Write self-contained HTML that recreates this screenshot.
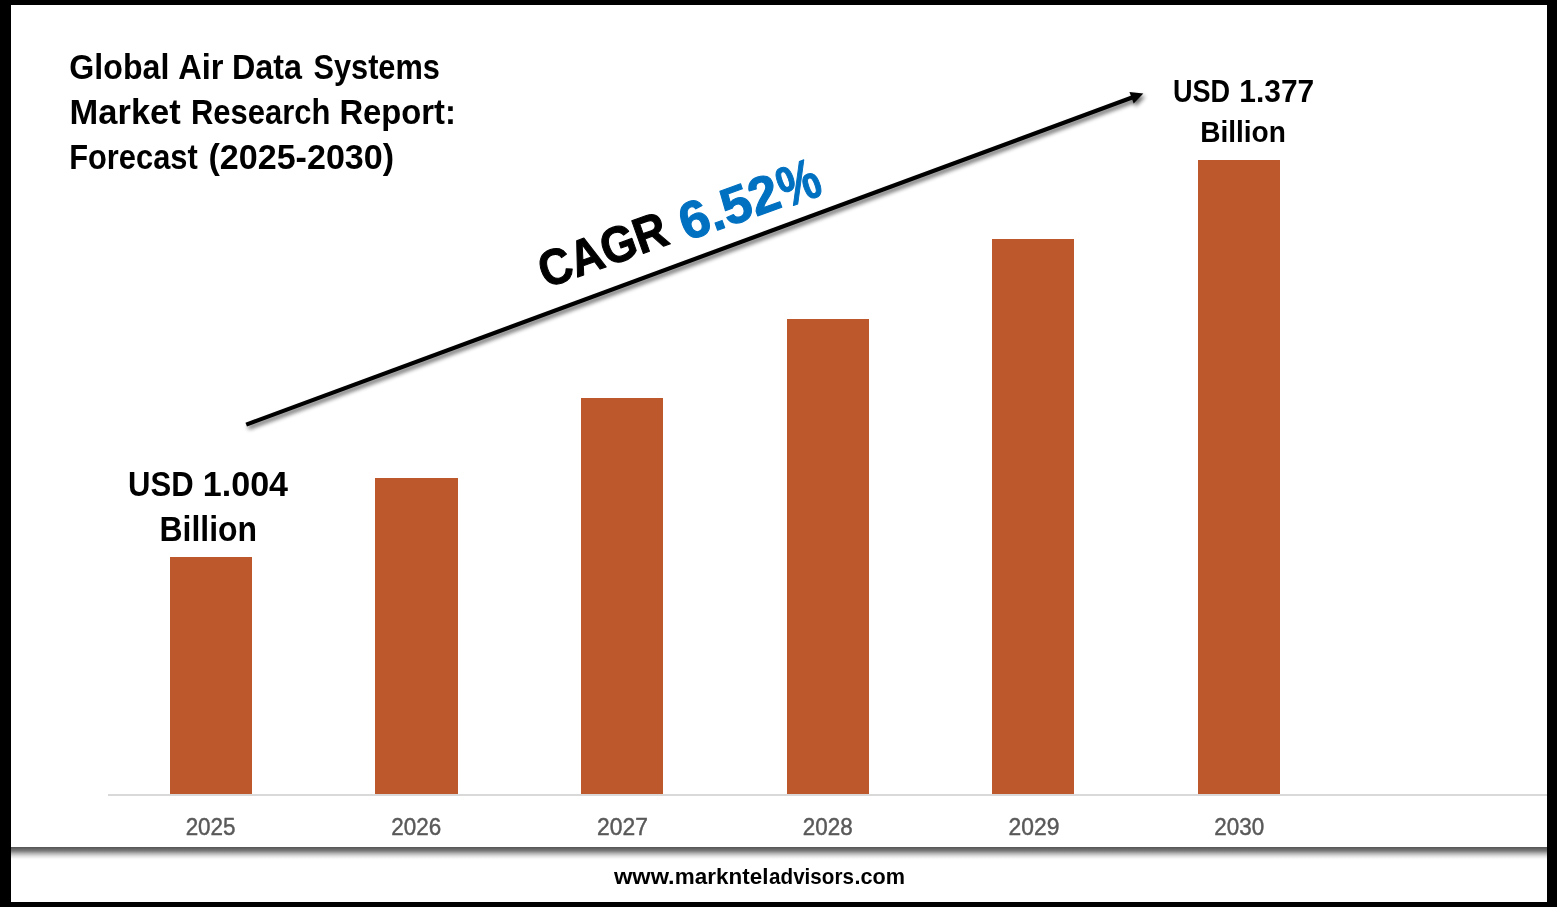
<!DOCTYPE html>
<html><head><meta charset="utf-8"><title>Global Air Data Systems Market</title>
<style>
html,body{margin:0;padding:0;background:#000;}
body{width:1557px;height:907px;overflow:hidden;position:relative;font-family:"Liberation Sans",sans-serif;}
svg{position:absolute;left:0;top:0;display:block;will-change:transform;}
text{font-family:"Liberation Sans",sans-serif;}
</style></head><body>
<svg width="1557" height="907" viewBox="0 0 1557 907">
<defs>
<linearGradient id="sh" x1="0" y1="0" x2="0" y2="1">
<stop offset="0" stop-color="#555"/><stop offset="0.12" stop-color="#626262"/><stop offset="0.3" stop-color="#7d7d7d"/>
<stop offset="0.5" stop-color="#b4b4b4"/><stop offset="0.7" stop-color="#e0e0e0"/><stop offset="0.88" stop-color="#f8f8f8"/><stop offset="1" stop-color="#fff"/>
</linearGradient>
<filter id="ds" x="-5%" y="-20%" width="110%" height="140%">
<feGaussianBlur in="SourceAlpha" stdDeviation="2.1"/><feOffset dx="1.8" dy="3"/>
<feComponentTransfer><feFuncA type="linear" slope="0.6"/></feComponentTransfer>
<feMerge><feMergeNode/><feMergeNode in="SourceGraphic"/></feMerge>
</filter>
</defs>
<rect x="0" y="0" width="1557" height="907" fill="#000"/>
<rect x="11" y="5" width="1536" height="897" fill="#fff"/>
<rect x="11" y="847" width="1536" height="13" fill="url(#sh)"/>
<rect x="108" y="794" width="1439" height="2" fill="#d9d9d9"/>
<rect x="170" y="557" width="82" height="237" fill="#BD582C"/>
<rect x="375" y="478" width="83" height="316" fill="#BD582C"/>
<rect x="581" y="398" width="82" height="396" fill="#BD582C"/>
<rect x="787" y="319" width="82" height="475" fill="#BD582C"/>
<rect x="992" y="239" width="82" height="555" fill="#BD582C"/>
<rect x="1198" y="160" width="82" height="634" fill="#BD582C"/>
<g filter="url(#ds)"><line x1="246.2" y1="424.6" x2="1133.45" y2="97.04" stroke="#000" stroke-width="4.2"/><polygon points="1143.30,93.40 1133.72,103.55 1129.43,91.91" fill="#000"/></g>
<text transform="translate(69.37,78.50) scale(0.9317,1)" font-size="34.5" font-weight="bold" fill="#000">Global</text>
<text transform="translate(178.20,78.50) scale(0.9453,1)" font-size="34.5" font-weight="bold" fill="#000">Air</text>
<text transform="translate(232.03,78.50) scale(0.9363,1)" font-size="34.5" font-weight="bold" fill="#000">Data</text>
<text transform="translate(313.41,78.50) scale(0.8917,1)" font-size="34.5" font-weight="bold" fill="#000">Systems</text>
<text transform="translate(69.60,123.75) scale(0.9998,1)" font-size="34.5" font-weight="bold" fill="#000">Market</text>
<text transform="translate(191.01,123.75) scale(0.8970,1)" font-size="34.5" font-weight="bold" fill="#000">Research</text>
<text transform="translate(339.40,123.75) scale(0.9504,1)" font-size="34.5" font-weight="bold" fill="#000">Report:</text>
<text transform="translate(69.21,168.80) scale(0.8937,1)" font-size="34.5" font-weight="bold" fill="#000">Forecast</text>
<text transform="translate(208.51,168.80) scale(0.9877,1)" font-size="34.5" font-weight="bold" fill="#000">(2025-2030)</text>
<text transform="translate(128.10,495.80) scale(0.9010,1)" font-size="34.5" font-weight="bold" fill="#000">USD</text>
<text transform="translate(202.82,495.80) scale(0.9876,1)" font-size="34.5" font-weight="bold" fill="#000">1.004</text>
<text transform="translate(159.55,540.70) scale(0.9257,1)" font-size="34.5" font-weight="bold" fill="#000">Billion</text>
<text transform="translate(1172.92,101.60) scale(0.8792,1)" font-size="30.8" font-weight="bold" fill="#000">USD</text>
<text transform="translate(1239.33,101.60) scale(0.9714,1)" font-size="30.8" font-weight="bold" fill="#000">1.377</text>
<text transform="translate(1200.13,141.60) scale(0.9351,1)" font-size="30.0" font-weight="bold" fill="#000">Billion</text>
<text transform="translate(614.06,883.90) scale(1.0606,1)" font-size="22.2" font-weight="bold" fill="#000">www.</text>
<text transform="translate(674.79,883.90) scale(1.0119,1)" font-size="22.2" font-weight="bold" fill="#000">markntel</text>
<text transform="translate(769.10,883.90) scale(0.9293,1)" font-size="22.2" font-weight="bold" fill="#000">advisors</text>
<text transform="translate(854.43,883.90) scale(0.9749,1)" font-size="22.2" font-weight="bold" fill="#000">.com</text>
<text transform="translate(185.65,835.10) scale(0.9501,1)" font-size="23.6" font-weight="normal" fill="#595959" stroke="#595959" stroke-width="0.45">2025</text>
<text transform="translate(391.37,835.10) scale(0.9501,1)" font-size="23.6" font-weight="normal" fill="#595959" stroke="#595959" stroke-width="0.45">2026</text>
<text transform="translate(597.07,835.10) scale(0.9689,1)" font-size="23.6" font-weight="normal" fill="#595959" stroke="#595959" stroke-width="0.45">2027</text>
<text transform="translate(802.81,835.10) scale(0.9501,1)" font-size="23.6" font-weight="normal" fill="#595959" stroke="#595959" stroke-width="0.45">2028</text>
<text transform="translate(1008.51,835.10) scale(0.9689,1)" font-size="23.6" font-weight="normal" fill="#595959" stroke="#595959" stroke-width="0.45">2029</text>
<text transform="translate(1214.25,835.10) scale(0.9501,1)" font-size="23.6" font-weight="normal" fill="#595959" stroke="#595959" stroke-width="0.45">2030</text>
<text transform="translate(545.69,288.44) rotate(-19.62) scale(0.9,1)" font-size="50.4" font-weight="bold" fill="#000" stroke="#000" stroke-width="1.1" stroke-linejoin="round">CAGR</text>
<text transform="translate(686.55,241.33) rotate(-19.65) scale(1.011,1)" font-size="52.5" font-weight="bold" fill="#0070C0" stroke="#0070C0" stroke-width="1.1" stroke-linejoin="round">6.52</text>
<text transform="translate(786.04,208.16) rotate(-20.25) scale(0.815,1)" font-size="57.09" font-weight="bold" fill="#0070C0" stroke="#0070C0" stroke-width="1.1" stroke-linejoin="round">%</text>
</svg>
</body></html>
